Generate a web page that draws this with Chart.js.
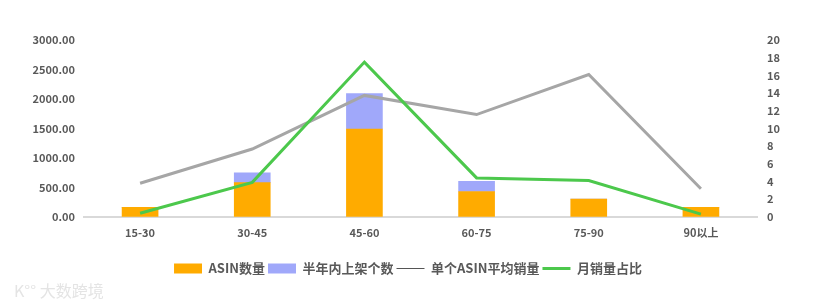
<!DOCTYPE html>
<html>
<head>
<meta charset="utf-8">
<script src="https://cdn.jsdelivr.net/npm/chart.js@4"></script>
<style>
  html, body { margin: 0; padding: 0; background: #fff; }
  #wrap { position: relative; width: 832px; height: 307px; }
  #mark { position: absolute; left: 14px; top: 278px; font: 16px "Noto Sans CJK SC"; color: #e4e4e4; }
</style>
</head>
<body>
<div id="wrap">
  <canvas id="chart" width="832" height="307"></canvas>
  <div id="mark">K°° 大数跨境</div>
</div>
<script>
const categories = ['15-30', '30-45', '45-60', '60-75', '75-90', '90以上'];
const asinCount = [160, 580, 1490, 430, 300, 160];
const newListings = [0, 165, 600, 170, 0, 0];
const avgSales = [570, 1150, 2060, 1735, 2415, 475];
const salesShare = [0.4, 3.9, 17.5, 4.4, 4.1, 0.3];
const leftTicks = [0, 500, 1000, 1500, 2000, 2500, 3000];
const rightTicks = [0, 2, 4, 6, 8, 10, 12, 14, 16, 18, 20];

const textColor = '#595959';
const font = { family: '"Noto Sans CJK SC", "Noto Sans", sans-serif', size: 11, weight: 'bold' };

// legend in the original sits a little left of centre
const shiftLegend = {
  id: 'shiftLegend',
  afterUpdate(chart) {
    chart.legend.left -= 8;
    chart.legend.right -= 8;
  }
};

const ctx = document.getElementById('chart').getContext('2d');
new Chart(ctx, {
  type: 'bar',
  data: {
    labels: categories,
    datasets: [
      {
        label: 'ASIN数量',
        data: asinCount,
        backgroundColor: '#ffab00',
        stack: 'bars',
        order: 2,
        yAxisID: 'y',
        barThickness: 36
      },
      {
        label: '半年内上架个数',
        data: newListings,
        backgroundColor: '#a0a8fa',
        stack: 'bars',
        order: 2,
        yAxisID: 'y',
        barThickness: 36
      },
      {
        type: 'line',
        label: '单个ASIN平均销量',
        data: avgSales,
        borderColor: '#a6a6a6',
        borderWidth: 3,
        pointRadius: 0,
        stack: 'avg',
        order: 1,
        yAxisID: 'y'
      },
      {
        type: 'line',
        label: '月销量占比',
        data: salesShare,
        borderColor: '#4cc84c',
        borderWidth: 3,
        pointRadius: 0,
        order: 0,
        yAxisID: 'y1'
      }
    ]
  },
  plugins: [shiftLegend],
  options: {
    responsive: false,
    animation: false,
    layout: { padding: { top: 40, bottom: 22, left: 0, right: 0 } },
    plugins: {
      tooltip: { enabled: false },
      legend: {
        position: 'bottom',
        labels: {
          color: textColor,
          font: { family: font.family, size: 13, weight: 'bold' },
          usePointStyle: true,
          pointStyleWidth: 28,
          boxWidth: 28,
          boxHeight: 10,
          padding: 3,
          generateLabels: (chart) => chart.data.datasets.map((ds, i) => {
            const isLine = ds.type === 'line';
            return {
              text: ds.label,
              datasetIndex: i,
              pointStyle: isLine ? 'line' : 'rect',
              fillStyle: isLine ? ds.borderColor : ds.backgroundColor,
              strokeStyle: isLine ? (i === 2 ? '#555555' : ds.borderColor) : ds.backgroundColor,
              lineWidth: isLine ? (i === 2 ? 1 : 3) : 0,
              fontColor: textColor,
              hidden: false
            };
          })
        }
      }
    },
    scales: {
      x: {
        stacked: true,
        grid: { display: false, drawTicks: false },
        border: { color: '#d9d9d9', width: 2 },
        ticks: { color: textColor, font: font, padding: 9 },
        afterFit: (axis) => { axis.height += 11; }
      },
      y: {
        position: 'left',
        stacked: true,
        min: 0,
        max: 3000,
        afterBuildTicks: (axis) => { axis.ticks = leftTicks.map(v => ({ value: v })); },
        afterFit: (axis) => { axis.width = 84; },
        grid: { display: false, drawTicks: false },
        border: { display: false },
        ticks: {
          color: textColor,
          font: font,
          padding: 9,
          callback: (v) => Number(v).toFixed(2)
        }
      },
      y1: {
        position: 'right',
        min: 0,
        max: 20,
        afterBuildTicks: (axis) => { axis.ticks = rightTicks.map(v => ({ value: v })); },
        afterFit: (axis) => { axis.width = 75; },
        grid: { display: false, drawTicks: false },
        border: { display: false },
        ticks: { color: textColor, font: font, padding: 10 }
      }
    }
  }
});
</script>
</body>
</html>
